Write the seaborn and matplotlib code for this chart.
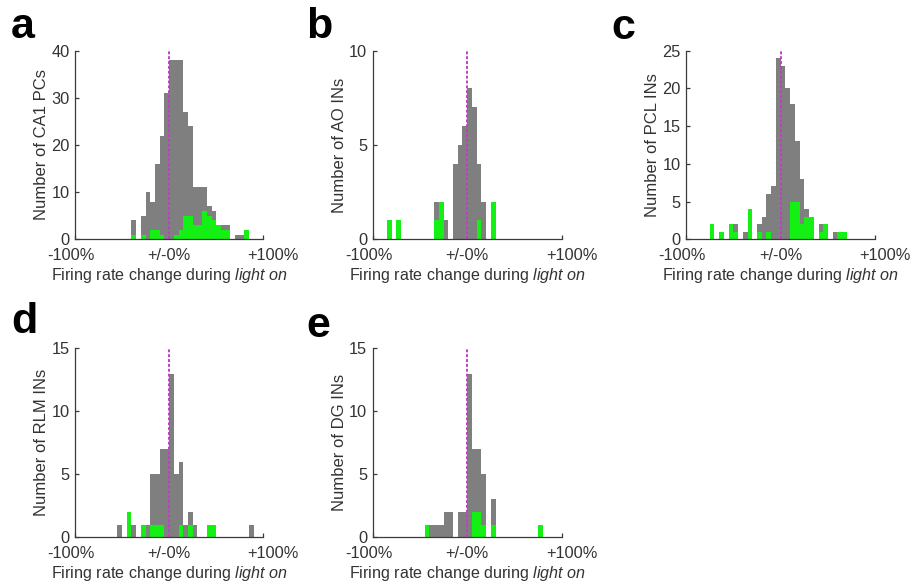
import numpy as np
import pandas as pd
import matplotlib
matplotlib.use("Agg")
import matplotlib.pyplot as plt
import matplotlib.transforms as mtransforms
import seaborn as sns

# Histogram bins: 5 % wide, spanning -100 % .. +100 %
BIN_WIDTH = 5
BIN_RANGE = (-100, 100)

# Cell counts per bin, keyed by the bin's left edge (%).
# *_all: every recorded cell; *_sig: cells with a significant light effect.
ca1_pc_all = {-40: 4, -30: 5, -25: 10, -20: 8, -15: 16, -10: 22, -5: 31, 0: 38, 5: 38,
              10: 38, 15: 27, 20: 24, 25: 11, 30: 11, 35: 11, 40: 7, 45: 6, 50: 3,
              55: 3, 60: 3, 70: 1, 75: 1, 80: 2}
ca1_pc_sig = {-40: 1, -30: 1, -20: 2, -15: 2, -10: 1, 5: 1, 10: 2, 15: 5, 20: 5, 25: 3,
              30: 3, 35: 6, 40: 5, 45: 4, 50: 3, 55: 2, 60: 2, 80: 2}

ao_all = {-85: 1, -75: 1, -35: 2, -30: 2, -25: 1, -15: 4, -10: 5, -5: 6, 0: 8, 5: 7,
          10: 4, 15: 2, 25: 2}
ao_sig = {-85: 1, -75: 1, -35: 1, -30: 2, 10: 1, 25: 2}

pcl_all = {-75: 2, -65: 1, -55: 2, -50: 2, -40: 1, -35: 4, -25: 2, -20: 3, -15: 6,
           -10: 7, -5: 24, 0: 23, 5: 20, 10: 18, 15: 13, 20: 8, 25: 4, 30: 3, 40: 2,
           45: 2, 55: 1, 60: 1, 65: 1}
pcl_sig = {-75: 2, -65: 1, -55: 2, -50: 1, -35: 4, -25: 1, -15: 1, 10: 5, 15: 5, 20: 2,
           25: 3, 30: 3, 40: 1, 45: 2, 60: 1, 65: 1}

rlm_all = {-55: 1, -45: 2, -40: 1, -30: 1, -25: 1, -20: 5, -15: 5, -10: 7, -5: 7, 0: 13,
           5: 5, 10: 6, 15: 1, 20: 2, 25: 1, 40: 1, 45: 1, 85: 1}
rlm_sig = {-45: 2, -30: 1, -20: 1, -15: 1, -10: 1, 10: 1, 20: 1, 40: 1, 45: 1}

dg_all = {-45: 1, -40: 1, -35: 1, -30: 1, -25: 2, -20: 2, -10: 2, -5: 2, 0: 13, 5: 7,
          10: 7, 15: 5, 25: 3, 75: 1}
dg_sig = {-45: 1, 5: 2, 10: 2, 15: 1, 25: 1, 75: 1}

x_ticks = [-100, 0, 100]
x_ticklabels = ["-100%", "+/-0%", "+100%"]
# outer x tick labels sit slightly outside the axis ends (pixels)
x_label_shift = [-4, 0, 10]

GREY = "#7f7f7f"
GREEN = "#14f014"
MAGENTA = "#c43cc8"
INK = "#333333"
AXIS = "#3a3a3a"

sns.set_style("ticks")
plt.rcParams["font.family"] = ["Liberation Sans", "DejaVu Sans"]
plt.rcParams["mathtext.fontset"] = "custom"
plt.rcParams["mathtext.rm"] = "Liberation Sans"
plt.rcParams["mathtext.it"] = "Liberation Sans:italic"

W, H = 912, 585
DPI = 100
fig = plt.figure(figsize=(W / DPI, H / DPI), dpi=DPI)
fig.patch.set_facecolor("white")


def px_axes(left, right, top, bottom):
    return fig.add_axes([left / W, 1 - bottom / H, (right - left) / W, (bottom - top) / H])


def draw_panel(ax, all_counts, sig_counts, ymax, yticks, ylabel):
    for counts, color in ((all_counts, GREY), (sig_counts, GREEN)):
        df = pd.DataFrame({
            "change": [k + BIN_WIDTH / 2 for k in counts],
            "n": list(counts.values()),
        })
        sns.histplot(data=df, x="change", weights="n", binwidth=BIN_WIDTH,
                     binrange=BIN_RANGE, color=color, alpha=1, edgecolor="none",
                     linewidth=0, ax=ax)
    ax.plot([0, 0], [0, ymax], color=MAGENTA, linestyle=(0, (1.5, 1)), linewidth=1.4,
            zorder=5)
    ax.set_xlim(-100, 100)
    ax.set_ylim(0, ymax)
    ax.set_xticks(x_ticks)
    ax.set_xticklabels(x_ticklabels)
    ax.set_yticks(yticks)
    ax.set_facecolor("white")
    for side in ("top", "right"):
        ax.spines[side].set_visible(False)
    for side in ("left", "bottom"):
        ax.spines[side].set_color(AXIS)
        ax.spines[side].set_linewidth(0.9)
        ax.spines[side].set_zorder(6)
    ax.tick_params(direction="in", length=3, width=0.9, colors=AXIS,
                   labelcolor=INK, labelsize=11.8)
    ax.tick_params(axis="x", pad=6.5)
    ax.tick_params(axis="y", pad=4)
    for lab, dx in zip(ax.get_xticklabels(), x_label_shift):
        lab.set_transform(lab.get_transform()
                          + mtransforms.ScaledTranslation(dx / DPI, 0, fig.dpi_scale_trans))
    ax.set_ylabel(ylabel, fontsize=12, color=INK, labelpad=1.5)
    ax.set_xlabel("Firing rate change during $\\mathit{light\\ on}$", fontsize=11.6,
                  color=INK, labelpad=2)


panels = [
    ((75, 263.3, 50.7, 239.3), ca1_pc_all, ca1_pc_sig, 40, [0, 10, 20, 30, 40],
     "Number of CA1 PCs", "a", (11, 38)),
    ((372.7, 561.7, 50.7, 239.3), ao_all, ao_sig, 10, [0, 5, 10],
     "Number of AO INs", "b", (306, 38)),
    ((686, 875.3, 50.7, 239.3), pcl_all, pcl_sig, 25, [0, 5, 10, 15, 20, 25],
     "Number of PCL INs", "c", (611, 39)),
    ((75, 263.3, 348.3, 537.3), rlm_all, rlm_sig, 15, [0, 5, 10, 15],
     "Number of RLM INs", "d", (11, 333)),
    ((372.7, 561.7, 348.3, 537.3), dg_all, dg_sig, 15, [0, 5, 10, 15],
     "Number of DG INs", "e", (306, 337)),
]

for box, all_counts, sig_counts, ymax, yticks, ylabel, letter, (lx, ly) in panels:
    ax = px_axes(*box)
    draw_panel(ax, all_counts, sig_counts, ymax, yticks, ylabel)
    fig.text(lx / W, 1 - ly / H, letter, fontsize=31, fontweight="bold",
             color="black", ha="left", va="baseline")

fig.savefig("out.png", dpi=DPI, facecolor="white")
